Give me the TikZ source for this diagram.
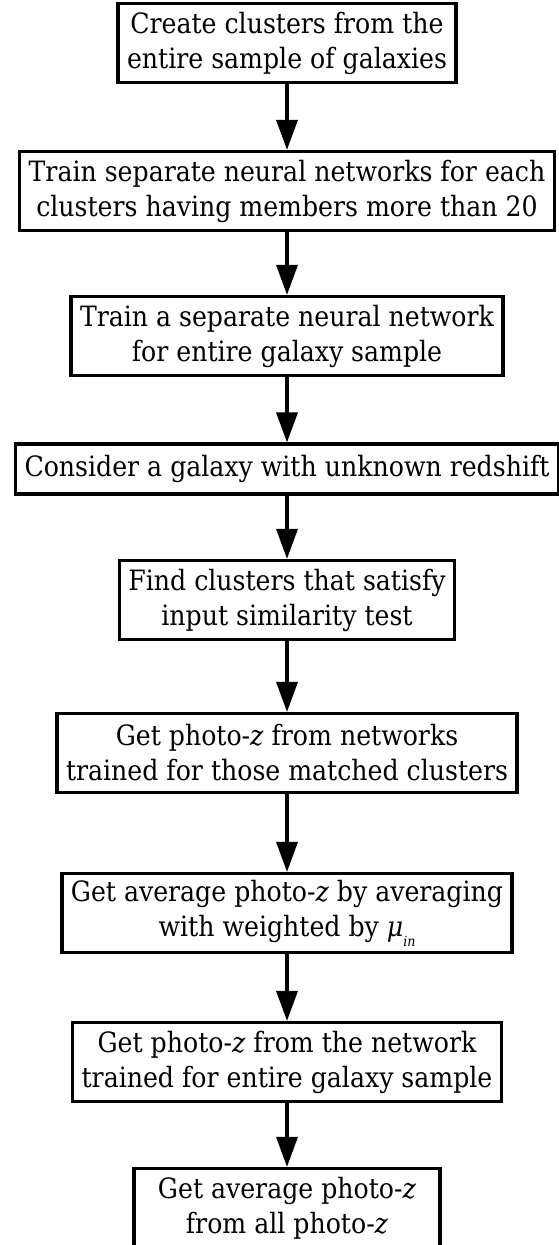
\documentclass[tikz,border=0pt]{standalone}
\usepackage{fontspec}
\setmainfont{DejaVu Serif Condensed}
\usetikzlibrary{arrows.meta}

\tikzset{
  stepbox/.style={draw, line width=3.2pt, align=center, inner xsep=9pt,
    minimum height=79pt, font=\fontsize{28}{35}\selectfont},
  flow/.style={line width=3.4pt, -{Triangle[length=30pt,width=21pt]}}
}
\newcommand{\zph}{photo-\textit{z}}

\begin{document}
\begin{tikzpicture}[x=1pt, y=1pt]
  \useasboundingbox (0,0) rectangle (559,-1245);

  % Clusters und Netze
  \node[stepbox] (create) at (287,-43) {Create clusters from the\\entire sample of galaxies};
  \node[stepbox] (trainc) at (287,-191) {Train separate neural networks for each\\clusters having members more than 20};
  \node[stepbox] (traine) at (287,-336) {Train a separate neural network\\for entire galaxy sample};

  % unbekannte Galaxie
  \node[stepbox, minimum height=50pt] (galaxy) at (287,-469) {Consider a galaxy with unknown redshift};
  \node[stepbox] (find) at (287,-600) {Find clusters that satisfy\\input similarity test};
  \node[stepbox] (getc) at (287,-753) {Get \zph{} from networks\\trained for those matched clusters};
  \node[stepbox] (avgw) at (287,-913) {Get average \zph{} by averaging\\with weighted by \textit{μ}\raisebox{-0.7ex}{\fontsize{14}{14}\selectfont\textit{in}}};
  \node[stepbox] (gete) at (287,-1062) {Get \zph{} from the network\\trained for entire galaxy sample};
  \node[stepbox, minimum width=306pt] (final) at (287,-1208) {Get average \zph\\from all \zph};

  % Pfeile
  \draw[flow] (create) -- (trainc);
  \draw[flow] (trainc) -- (traine);
  \draw[flow] (traine) -- (galaxy);
  \draw[flow] (galaxy) -- (find);
  \draw[flow] (find) -- (getc);
  \draw[flow] (getc) -- (avgw);
  \draw[flow] (avgw) -- (gete);
  \draw[flow] (gete) -- (final);

\end{tikzpicture}
\end{document}
